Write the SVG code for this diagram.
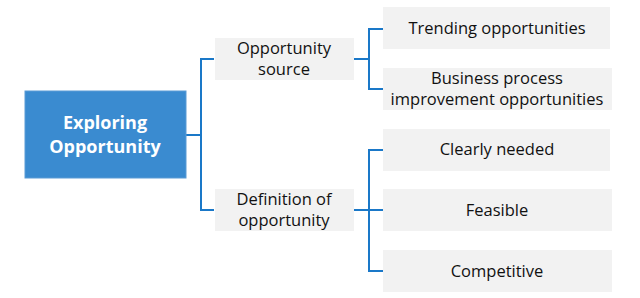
<svg xmlns="http://www.w3.org/2000/svg" width="640" height="298" viewBox="0 0 640 298">
<style>
.box{fill:#f2f2f2;}
.t{font-family:"Open Sans","Liberation Sans",sans-serif;font-size:16.5px;fill:#111111;text-anchor:middle;}
.main{fill:#3a8bd0;stroke:#5b9bd5;stroke-width:1;}
.mt{font-family:"Open Sans","Liberation Sans",sans-serif;font-size:18px;font-weight:bold;fill:#ffffff;text-anchor:middle;}
.c{fill:none;stroke:#1a78c8;stroke-width:2;}
</style>
<rect width="640" height="298" fill="#ffffff"/>
<g id="connectors">
<path class="c" d="M186,135 H201 M214,59 H201 V210 H214"/>
<path class="c" d="M354,59 H369 M383,29 H369 V89 H383"/>
<path class="c" d="M354,210 H383 M383,150 H369 V271 H383"/>
</g>
<g id="n-main">
<rect class="main" x="25" y="91" width="161" height="87"/>
<text class="mt" x="105" y="129">Exploring</text>
<text class="mt" x="105" y="153">Opportunity</text>
</g>
<g id="n-source">
<rect class="box" x="215" y="38" width="139" height="42"/>
<text class="t" x="284" y="54">Opportunity</text>
<text class="t" x="284" y="75">source</text>
</g>
<g id="n-definition">
<rect class="box" x="215" y="189" width="139" height="42"/>
<text class="t" x="284" y="205">Definition of</text>
<text class="t" x="284" y="226">opportunity</text>
</g>
<g id="n-trending">
<rect class="box" x="383" y="7" width="227" height="42"/>
<text class="t" x="497" y="34">Trending opportunities</text>
</g>
<g id="n-business">
<rect class="box" x="383" y="68" width="229" height="42"/>
<text class="t" x="497" y="84">Business process</text>
<text class="t" x="497" y="105">improvement opportunities</text>
</g>
<g id="n-clearly">
<rect class="box" x="383" y="129" width="227" height="42"/>
<text class="t" x="497" y="155">Clearly needed</text>
</g>
<g id="n-feasible">
<rect class="box" x="383" y="189" width="229" height="42"/>
<text class="t" x="497" y="216">Feasible</text>
</g>
<g id="n-competitive">
<rect class="box" x="383" y="250" width="229" height="42"/>
<text class="t" x="497" y="277">Competitive</text>
</g>
</svg>
